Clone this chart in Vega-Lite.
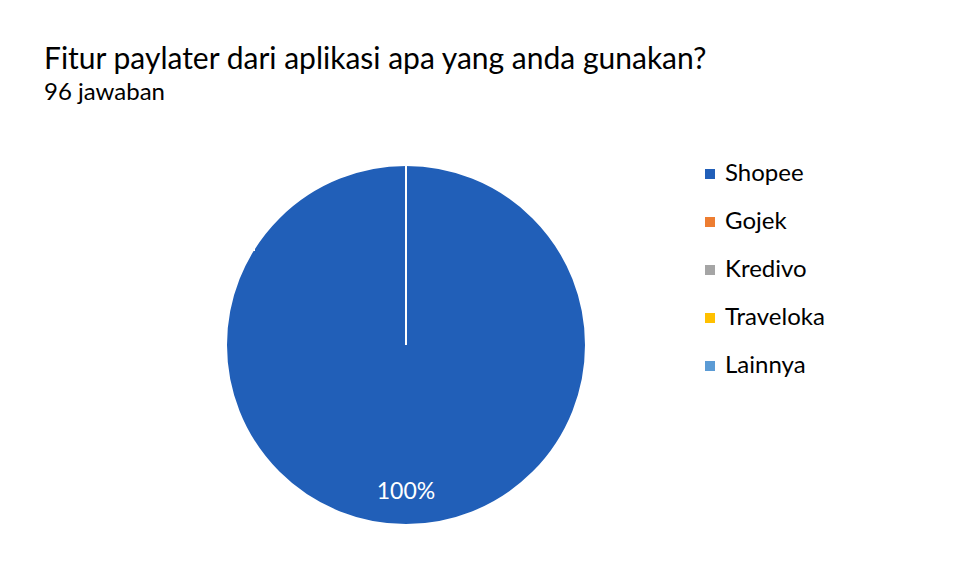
{
  "$schema": "https://vega.github.io/schema/vega-lite/v6.json",
  "width": 360,
  "height": 360,
  "autosize": {"type": "none"},
  "padding": {"left": 226, "top": 165, "right": 374, "bottom": 50},
  "background": "white",
  "title": {
    "text": "Fitur paylater dari aplikasi apa yang anda gunakan?",
    "subtitle": "96 jawaban",
    "anchor": "start",
    "frame": "group",
    "dx": -182,
    "offset": 56,
    "font": "Lato",
    "fontSize": 30,
    "fontWeight": "normal",
    "color": "#000000",
    "subtitleFont": "Lato",
    "subtitleFontSize": 24,
    "subtitleColor": "#000000",
    "subtitlePadding": 6
  },
  "data": {
    "values": [
      {"aplikasi": "Shopee", "jumlah": 96},
      {"aplikasi": "Gojek", "jumlah": 0},
      {"aplikasi": "Kredivo", "jumlah": 0},
      {"aplikasi": "Traveloka", "jumlah": 0},
      {"aplikasi": "Lainnya", "jumlah": 0}
    ]
  },
  "encoding": {
    "theta": {"field": "jumlah", "type": "quantitative", "stack": true},
    "color": {
      "field": "aplikasi",
      "type": "nominal",
      "sort": ["Shopee", "Gojek", "Kredivo", "Traveloka", "Lainnya"],
      "scale": {
        "domain": ["Shopee", "Gojek", "Kredivo", "Traveloka", "Lainnya"],
        "range": ["#215FB8", "#ED7D31", "#A5A5A5", "#FFC000", "#5B9BD5"]
      },
      "legend": {
        "orient": "none",
        "legendX": 472,
        "legendY": -3,
        "title": null,
        "symbolType": "square",
        "symbolSize": 100,
        "symbolStrokeWidth": 0,
        "labelFont": "Lato",
        "labelFontSize": 24,
        "labelColor": "#000000",
        "labelOffset": 3,
        "rowPadding": 24
      }
    }
  },
  "layer": [
    {
      "mark": {"type": "arc", "stroke": "white", "strokeWidth": 2}
    },
    {
      "transform": [
        {"filter": "datum.jumlah > 0"},
        {"joinaggregate": [{"op": "sum", "field": "jumlah", "as": "total"}]},
        {"calculate": "format(datum.jumlah / datum.total, '.0%')", "as": "persen"}
      ],
      "mark": {"type": "text", "radius": 147, "font": "Lato", "fontSize": 23, "fill": "white", "baseline": "middle"},
      "encoding": {
        "text": {"field": "persen"},
        "color": {"value": "white"}
      }
    }
  ]
}
